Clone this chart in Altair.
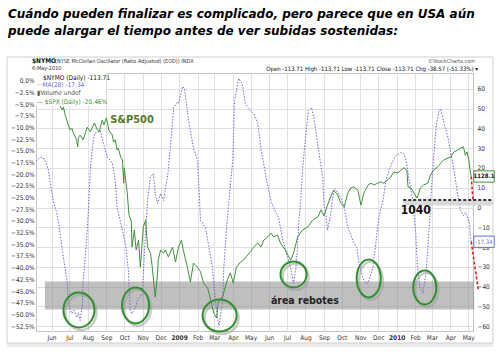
import altair as alt
import pandas as pd

W, H = 437, 258
NARROW = "Liberation Sans Narrow, Arial Narrow, DejaVu Sans Condensed, sans-serif"

TITLE1 = "Cuándo pueden finalizar es complicado, pero parece que en USA aún"
TITLE2 = "puede  alargar el tiempo antes de ver subidas sostenidas:"

# ---- $NYMO MA(28)  (right axis) ----
ma_dates = [
    "2008-05-06", "2008-05-13", "2008-05-18", "2008-05-23", "2008-05-27", "2008-05-30",
    "2008-06-04", "2008-06-11", "2008-06-16", "2008-06-21", "2008-06-27", "2008-06-29",
    "2008-07-02", "2008-07-05", "2008-07-09", "2008-07-13", "2008-07-16", "2008-07-19",
    "2008-07-23", "2008-07-24", "2008-07-29", "2008-08-02", "2008-08-05", "2008-08-08",
    "2008-08-12", "2008-08-17", "2008-08-22", "2008-08-27", "2008-09-03", "2008-09-08",
    "2008-09-11", "2008-09-16", "2008-09-19", "2008-10-03", "2008-10-08", "2008-10-11",
    "2008-10-14", "2008-10-20", "2008-10-23", "2008-10-28", "2008-10-31", "2008-11-02",
    "2008-11-06", "2008-11-09", "2008-11-14", "2008-11-19", "2008-11-22", "2008-11-26",
    "2008-12-01", "2008-12-06", "2008-12-14", "2008-12-23", "2008-12-29", "2008-12-31",
    "2009-01-07", "2009-01-10", "2009-01-17", "2009-01-25", "2009-02-01", "2009-02-06",
    "2009-02-14", "2009-02-19", "2009-02-26", "2009-03-03", "2009-03-07", "2009-03-09",
    "2009-03-15", "2009-03-17", "2009-03-23", "2009-03-25", "2009-04-01", "2009-04-04",
    "2009-04-11", "2009-04-17", "2009-04-22", "2009-04-28", "2009-05-01", "2009-05-06",
    "2009-05-13", "2009-05-18", "2009-05-27", "2009-06-04", "2009-06-12", "2009-06-17",
    "2009-06-23", "2009-07-02", "2009-07-07", "2009-07-12", "2009-07-16", "2009-07-19",
    "2009-07-21", "2009-07-24", "2009-07-27", "2009-08-01", "2009-08-06", "2009-08-11",
    "2009-08-15", "2009-08-23", "2009-08-30", "2009-09-01", "2009-09-04", "2009-09-07",
    "2009-09-12", "2009-09-15", "2009-09-19", "2009-09-24", "2009-09-29", "2009-10-05",
    "2009-10-11", "2009-10-21", "2009-10-26", "2009-10-30", "2009-11-05", "2009-11-10",
    "2009-11-14", "2009-11-17", "2009-11-22", "2009-11-27", "2009-12-02", "2009-12-09",
    "2009-12-14", "2009-12-19", "2009-12-26", "2009-12-31", "2010-01-08", "2010-01-13",
    "2010-01-17", "2010-01-22", "2010-01-28", "2010-02-02", "2010-02-05", "2010-02-09",
    "2010-02-14", "2010-02-19", "2010-02-22", "2010-02-25", "2010-02-27", "2010-03-03",
    "2010-03-08", "2010-03-13", "2010-03-16", "2010-03-21", "2010-03-28", "2010-04-02",
    "2010-04-08", "2010-04-13", "2010-04-18", "2010-04-23", "2010-04-26", "2010-04-29",
    "2010-05-03", "2010-05-05", "2010-05-06",
]
ma_values = [
    23.5, 25.3, 25.3, 22.3, 18.7, 12.2,
    3.5, -4.1, -14.2, -25.3, -37.0, -47.1,
    -51.1, -53.7, -52.1, -55.7, -53.2, -57.2,
    -48.6, -37.0, -20.3, -1.5, 18.7, 28.9,
    37.5, 38.0, 39.0, 32.4, 25.3, 23.8,
    22.3, 13.7, 0.0, -18.2, -31.9, -52.1,
    -53.7, -50.6, -47.1, -44.6, -44.6, -34.0,
    -11.0, 3.5, 15.2, 17.2, 7.1, 2.0,
    7.1, 3.5, 18.7, 50.6, 53.2, 52.7,
    61.3, 60.3, 44.0, 30.4, 23.8, -6.6,
    -10.1, -18.2, -30.4, -47.1, -57.2, -59.7,
    -47.1, -30.4, -5.1, 1.0, 23.8, 54.2,
    65.3, 62.8, 52.7, 50.1, 49.1, 47.6,
    42.5, 30.4, 15.2, 3.5, -2.5, -5.1,
    -15.2, -25.3, -30.4, -38.5, -30.4, -18.2,
    -6.6, 3.5, 18.7, 35.4, 49.1, 50.6,
    45.6, 28.9, 15.2, 2.0, -3.0, -11.6,
    -4.1, 3.5, 9.6, 7.6, 5.1, 0.0,
    -10.1, -17.7, -20.3, -28.4, -35.4, -38.5,
    -38.0, -35.4, -30.4, -18.2, -5.1, 3.5,
    13.7, 18.7, 23.8, 26.3, 27.8, 27.3,
    23.8, 13.7, 3.5, -13.2, -30.4, -40.5,
    -43.5, -33.4, -21.8, -8.1, 3.5, 21.3,
    40.5, 49.1, 50.1, 43.0, 35.4, 27.3,
    17.2, 7.1, -1.5, -4.1, -2.5, -4.1,
    -8.1, -15.2, -17.34,
]

# ---- $SPX % change (left axis) ----
spx_dates = [
    "2008-05-06", "2008-05-13", "2008-05-18", "2008-05-30", "2008-06-04", "2008-06-11",
    "2008-06-13", "2008-06-19", "2008-06-21", "2008-06-24", "2008-06-29", "2008-07-02",
    "2008-07-05", "2008-07-07", "2008-07-13", "2008-07-15", "2008-07-16", "2008-07-19",
    "2008-07-24", "2008-07-28", "2008-07-31", "2008-08-05", "2008-08-08", "2008-08-12",
    "2008-08-17", "2008-08-20", "2008-08-25", "2008-08-28", "2008-09-01", "2008-09-03",
    "2008-09-05", "2008-09-11", "2008-09-13", "2008-09-16", "2008-09-19", "2008-09-21",
    "2008-09-25", "2008-09-28", "2008-09-30", "2008-10-01", "2008-10-06", "2008-10-09",
    "2008-10-13", "2008-10-14", "2008-10-18", "2008-10-21", "2008-10-25", "2008-10-28",
    "2008-11-02", "2008-11-06", "2008-11-09", "2008-11-14", "2008-11-17", "2008-11-22",
    "2008-11-26", "2008-11-27", "2008-12-01", "2008-12-06", "2008-12-09", "2008-12-14",
    "2008-12-21", "2008-12-26", "2008-12-31", "2009-01-05", "2009-01-08", "2009-01-15",
    "2009-01-20", "2009-01-25", "2009-02-01", "2009-02-06", "2009-02-11", "2009-02-18",
    "2009-02-23", "2009-02-28", "2009-03-05", "2009-03-08", "2009-03-15", "2009-03-18",
    "2009-03-23", "2009-03-28", "2009-04-02", "2009-04-07", "2009-04-14", "2009-04-19",
    "2009-04-26", "2009-05-01", "2009-05-06", "2009-05-13", "2009-05-18", "2009-05-23",
    "2009-05-30", "2009-06-04", "2009-06-09", "2009-06-15", "2009-06-20", "2009-06-28",
    "2009-07-07", "2009-07-12", "2009-07-19", "2009-07-27", "2009-08-05", "2009-08-13",
    "2009-08-22", "2009-08-27", "2009-09-01", "2009-09-07", "2009-09-12", "2009-09-17",
    "2009-09-24", "2009-09-29", "2009-10-05", "2009-10-11", "2009-10-16", "2009-10-21",
    "2009-10-28", "2009-11-02", "2009-11-07", "2009-11-14", "2009-11-19", "2009-11-24",
    "2009-11-30", "2009-12-05", "2009-12-10", "2009-12-17", "2009-12-22", "2009-12-27",
    "2010-01-03", "2010-01-08", "2010-01-13", "2010-01-18", "2010-01-20", "2010-01-25",
    "2010-01-30", "2010-02-04", "2010-02-10", "2010-02-15", "2010-02-22", "2010-02-27",
    "2010-03-04", "2010-03-11", "2010-03-16", "2010-03-21", "2010-03-28", "2010-04-02",
    "2010-04-07", "2010-04-13", "2010-04-18", "2010-04-23", "2010-04-26", "2010-04-29",
    "2010-05-02", "2010-05-04", "2010-05-06",
]
spx_pct = [
    0.0, 0.2, -0.6, -3.0, -4.1, -5.1,
    -4.7, -6.2, -5.6, -7.3, -9.4, -10.5,
    -10.1, -10.9, -12.6, -14.1, -12.2, -11.6,
    -12.6, -11.1, -9.9, -10.9, -10.1, -9.0,
    -10.5, -10.9, -8.4, -9.4, -7.9, -9.0,
    -10.5, -11.6, -13.1, -12.6, -14.8, -14.4,
    -16.3, -16.9, -21.9, -18.6, -24.0, -28.7,
    -30.2, -35.6, -31.9, -36.2, -34.1, -39.9,
    -31.3, -29.8, -35.6, -36.9, -39.9, -46.3,
    -41.1, -38.4, -36.2, -36.9, -36.2, -37.7,
    -35.6, -38.8, -35.6, -34.1, -36.2, -39.9,
    -43.1, -39.0, -39.9, -40.9, -43.3, -44.4,
    -46.9, -49.7, -50.8, -46.9, -46.3, -44.8,
    -42.6, -41.1, -43.3, -39.9, -38.8, -38.4,
    -37.3, -36.6, -35.6, -34.7, -35.6, -34.1,
    -33.4, -32.6, -33.4, -33.0, -34.7, -36.2,
    -38.4, -36.9, -33.4, -31.9, -31.3, -29.8,
    -29.1, -27.6, -28.9, -26.6, -24.9, -23.4,
    -24.4, -26.1, -27.0, -24.0, -22.9, -22.7,
    -23.4, -26.6, -24.0, -22.3, -21.9, -22.3,
    -21.9, -21.6, -21.9, -21.2, -20.6, -19.5,
    -19.7, -19.1, -18.6, -19.1, -22.7, -22.9,
    -24.0, -25.1, -22.9, -22.3, -21.9, -20.1,
    -19.1, -18.4, -17.6, -16.9, -16.5, -16.3,
    -15.2, -14.8, -14.4, -14.1, -15.9, -15.2,
    -16.9, -19.1, -20.46,
]

left_ticks = [0.0, -2.5, -5.0, -7.5, -10.0, -12.5, -15.0, -17.5, -20.0, -22.5, -25.0,
              -27.5, -30.0, -32.5, -35.0, -37.5, -40.0, -42.5, -45.0, -47.5, -50.0, -52.5]
right_ticks = [60, 50, 40, 30, 20, 10, 0, -10, -20, -30, -40, -50, -60]
month_ticks = ["2008-06", "2008-07", "2008-08", "2008-09", "2008-10", "2008-11", "2008-12",
               "2009-01", "2009-02", "2009-03", "2009-04", "2009-05", "2009-06", "2009-07",
               "2009-08", "2009-09", "2009-10", "2009-11", "2009-12", "2010-01", "2010-02",
               "2010-03", "2010-04", "2010-05"]

# annotations
ell_dates = ["2008-07-17", "2008-10-20", "2009-03-10", "2009-07-12", "2009-11-15", "2010-02-17"]
ell_vals = [-51.9, -49.6, -54.7, -33.9, -35.9, -40.5]
ell_w = [31, 27, 34, 26, 24, 23]
ell_h = [35, 36, 32, 26, 38, 34]

band_dates = ["2008-05-21", "2010-05-11"]
band_vals = [-37.5, -51.6]          # right-axis units
level_dates = ["2010-01-12", "2010-06-10"]
level_val = -25.5                   # left-axis units (S&P 1040)
red1_dates = ["2010-05-06", "2010-05-09"]
red1_vals = [-20.46, -25.5]         # left axis
red2_dates = ["2010-05-06", "2010-05-18"]
red2_vals = [-17.34, -42.0]         # right axis


def dt(s, day=1):
    return alt.DateTime(year=int(s[:4]), month=int(s[5:7]), date=day, utc=True)


XS = alt.Scale(type="utc", domain=[alt.DateTime(year=2008, month=5, date=6, utc=True),
                                   alt.DateTime(year=2010, month=5, date=9, utc=True)])
LS = alt.Scale(domain=[-53.57, 1.71], nice=False, zero=False)
RS = alt.Scale(domain=[-62.53, 68.1], nice=False, zero=False)

GRID = "#e0e0e0"
MA_COL = "#6a6ad6"
SPX_COL = "#3f913a"
ELL_COL = "#2f8f2f"

x_axis = alt.Axis(
    values=[dt(m) for m in month_ticks], orient="bottom", title=None,
    labelExpr="utcmonth(datum.value) == 0 ? utcFormat(datum.value, '%Y') : utcFormat(datum.value, '%b')",
    labelFontWeight={"condition": {"test": "utcmonth(datum.value) == 0", "value": "bold"}, "value": "normal"},
    grid=True, gridColor=GRID, ticks=False, domain=False, labelFont=NARROW,
    labelFontSize=6.5, labelColor="#333", labelPadding=3)
right_axis = alt.Axis(
    values=right_ticks, orient="right", title=None, grid=True, gridColor=GRID,
    ticks=False, domain=False, labelFont=NARROW, labelFontSize=6.5, labelColor="#333",
    labelPadding=4, labelAlign="left")
left_axis = alt.Axis(
    values=left_ticks, orient="left", title=None, grid=False, ticks=False, domain=False,
    labelExpr="format(datum.value, '.1f') + '%'", labelFont=NARROW, labelFontSize=6.5,
    labelColor="#333", labelPadding=2)


def X(f="date", axis=None):
    return alt.X(f, type="temporal", scale=XS, axis=axis)


def YL(f):
    return alt.Y(f, type="quantitative", scale=LS, axis=None)


def YR(f):
    return alt.Y(f, type="quantitative", scale=RS, axis=None)


ONE = alt.InlineData(values=[{}])

def txt(t, x, y, size=6.5, color="#222", weight="normal", align="left", font=NARROW, style="normal"):
    return alt.Chart(ONE).mark_text(text=t, fontSize=size, color=color, fontWeight=weight,
                                    align=align, baseline="middle", font=font, fontStyle=style).encode(
        x=alt.value(x), y=alt.value(y))


layers = []

# panel frame
layers.append(alt.Chart(ONE).mark_rect(fill="#ececec").encode(
    x=alt.value(-29), x2=alt.value(457), y=alt.value(270), y2=alt.value(274)))
layers.append(alt.Chart(ONE).mark_rect(fillOpacity=0, stroke="#cfcfcf", strokeWidth=1).encode(
    x=alt.value(-29), x2=alt.value(457), y=alt.value(-16), y2=alt.value(270)))

# grey "área rebotes" band
band_df = pd.DataFrame({"d1": [band_dates[0]], "d2": [band_dates[1]], "v1": [band_vals[0]], "v2": [band_vals[1]]})
layers.append(alt.Chart(band_df).mark_rect(fill="#8a8a8a", opacity=0.55).encode(
    x=X("d1"), x2="d2", y=YR("v1"), y2="v2"))

# MA line (right axis, carries grid + x axis)
ma_df = pd.DataFrame({"date": ma_dates, "v": ma_values})
layers.append(alt.Chart(ma_df).mark_line(color=MA_COL, strokeWidth=1, strokeDash=[1.5, 1.5]).encode(
    x=X("date", x_axis), y=alt.Y("v", type="quantitative", scale=RS, axis=right_axis)))

# SPX line (left axis)
spx_df = pd.DataFrame({"date": spx_dates, "p": spx_pct})
layers.append(alt.Chart(spx_df).mark_line(color=SPX_COL, strokeWidth=1).encode(
    x=X("date"), y=alt.Y("p", type="quantitative", scale=LS, axis=left_axis)))

# legend box
layers.append(alt.Chart(ONE).mark_rect(fill="white").encode(
    x=alt.value(0), x2=alt.value(70), y=alt.value(0), y2=alt.value(33)))
layers.append(txt("$NYMO (Daily) -113.71", 7, 4.5, color="#111"))
layers.append(txt("···MA(28) -17.34", 1, 11.5, color=MA_COL))
layers.append(txt("▮Volume undef", 1, 20, color="#555"))
layers.append(txt("— $SPX (Daily) -20.46%", 1, 29, color=SPX_COL))


# ellipses (shadow + green)
def ellipse_path(w, h, dx=0.0, dy=0.0):
    a, b = w / 40, h / 40
    return (f"M {dx - a:.3f} {dy:.3f} A {a:.3f} {b:.3f} 0 1 1 {dx + a:.3f} {dy:.3f} "
            f"A {a:.3f} {b:.3f} 0 1 1 {dx - a:.3f} {dy:.3f} Z")


ell_df = pd.DataFrame({
    "date": ell_dates, "v": ell_vals,
    "path": [ellipse_path(w, h) for w, h in zip(ell_w, ell_h)],
    "spath": [ellipse_path(w, h, 0.1, 0.12) for w, h in zip(ell_w, ell_h)],
})
layers.append(alt.Chart(ell_df).mark_point(filled=False, size=1600, stroke="#9a9a9a", strokeWidth=2.5, opacity=0.5).encode(
    x=X("date"), y=YR("v"), shape=alt.Shape("spath:N", scale=None, legend=None)))
layers.append(alt.Chart(ell_df).mark_point(filled=False, size=1600, stroke=ELL_COL, strokeWidth=2, opacity=1).encode(
    x=X("date"), y=YR("v"), shape=alt.Shape("path:N", scale=None, legend=None)))

# 1040 level line with shadow
lvl_df = pd.DataFrame({"date": level_dates, "v": [level_val, level_val]})
layers.append(alt.Chart(lvl_df).mark_line(color="#cfcfcf", strokeWidth=5, opacity=0.8).encode(
    x=X("date"), y=YL("v"), yOffset=alt.value(3)))
layers.append(alt.Chart(lvl_df).mark_line(color="#333", strokeWidth=1.8, strokeDash=[3, 2]).encode(
    x=X("date"), y=YL("v")))

# red projections
r1 = pd.DataFrame({"date": red1_dates, "v": red1_vals})
r2 = pd.DataFrame({"date": red2_dates, "v": red2_vals})
layers.append(alt.Chart(r1).mark_line(color="#e02020", strokeWidth=1.6, strokeDash=[3, 2]).encode(x=X("date"), y=YL("v")))
layers.append(alt.Chart(r2).mark_line(color="#e02020", strokeWidth=1.6, strokeDash=[3, 2]).encode(x=X("date"), y=YR("v")))

# annotation texts in data coordinates
a_left = pd.DataFrame({"date": ["2008-10-14", "2010-02-02"], "v": [-8.4, -27.6],
                       "t": ["S&P500", "1040"], "c": ["#577a20", "#111111"], "s": [11, 12]})
layers.append(alt.Chart(a_left).mark_text(font=NARROW, fontWeight="bold", baseline="middle").encode(
    x=X("date"), y=YL("v"), text="t:N", color=alt.Color("c:N", scale=None), size=alt.Size("s:Q", scale=None)))
a_right = pd.DataFrame({"date": ["2009-07-31"], "v": [-47.1], "t": ["área rebotes"]})
layers.append(alt.Chart(a_right).mark_text(font=NARROW, fontWeight="bold", fontSize=10.5, color="#222", baseline="middle").encode(
    x=X("date"), y=YR("v"), text="t:N"))

# last-value boxes on the right
BOX = "M -1 -0.55 L 1 -0.55 L 1 0.55 L -1 0.55 Z"
last_spx = pd.DataFrame({"v": [spx_pct[-1]], "t": ["1128.1"]})
last_ma = pd.DataFrame({"v": [ma_values[-1]], "t": ["-17.34"]})
layers.append(alt.Chart(last_spx).mark_point(shape=BOX, size=420, filled=True, fill="white", stroke=SPX_COL, strokeWidth=1, opacity=1).encode(
    x=alt.value(448), y=YL("v")))
layers.append(alt.Chart(last_spx).mark_text(font=NARROW, fontSize=6, fontWeight="bold", color="#111").encode(
    x=alt.value(448), y=YL("v"), text="t:N"))
layers.append(alt.Chart(last_ma).mark_point(shape=BOX, size=420, filled=True, fill="white", stroke=MA_COL, strokeWidth=1, opacity=1).encode(
    x=alt.value(448), y=YR("v")))
layers.append(alt.Chart(last_ma).mark_text(font=NARROW, fontSize=6, color=MA_COL).encode(
    x=alt.value(448), y=YR("v"), text="t:N"))

# header of the StockCharts panel
layers.append(txt("$NYMO", -4, -12, size=6.5, weight="bold", color="#111"))
layers.append(txt("(NYSE McClellan Oscillator (Ratio Adjusted) (EOD)) INDX", 19, -12, size=5.5, color="#333"))
layers.append(txt("6-May-2010", -4, -5, size=5.5, color="#333"))
layers.append(txt("©StockCharts.com", 439, -12, size=5.5, color="#555", align="right"))
layers.append(txt("Open -113.71  High -113.71  Low -113.71  Close -113.71  Chg -38.57 (-51.33%) ▾",
                  442, -4.5, size=6, color="#111", align="right"))

# title
layers.append(txt(TITLE1, -28, -59, size=12, weight="bold", color="#000", font="DejaVu Sans", style="italic"))
layers.append(txt(TITLE2, -28, -42, size=12, weight="bold", color="#000", font="DejaVu Sans", style="italic"))

chart = alt.layer(*layers).resolve_scale(x="independent", y="independent").properties(
    width=W, height=H,
    padding={"left": 36, "top": 73, "right": 30, "bottom": 23},
    autosize=alt.AutoSizeParams(type="none"),
    background="white",
).configure_view(stroke="#c4c4c4", strokeWidth=1)

chart.save("out.html", embed_options={"renderer": "svg", "actions": False})
